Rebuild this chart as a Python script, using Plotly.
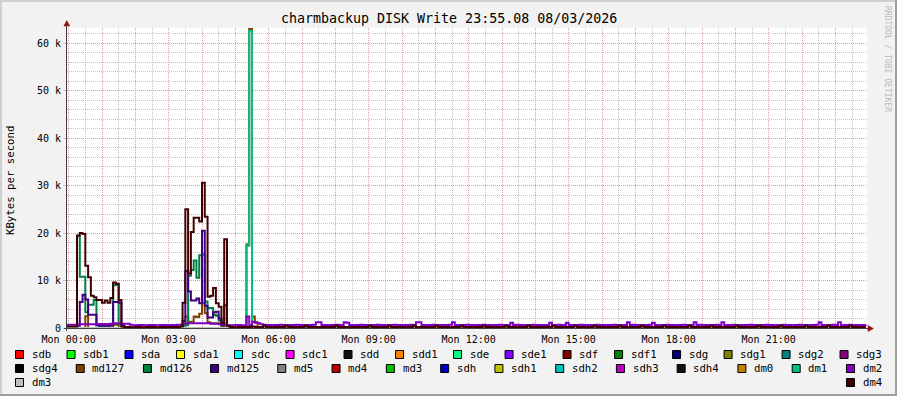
import plotly.graph_objects as go
from datetime import datetime, timedelta

# ---------------- data ----------------
START = datetime(2026, 8, 2, 23, 55)   # first 5-minute sample
STEP_MIN = 5
N_POINTS = 289

series_names = ["sdb", "sdb1", "sda", "sda1", "sdc", "sdc1", "sdd", "sdd1",
                "sde", "sde1", "sdf", "sdf1", "sdg", "sdg1", "sdg2", "sdg3",
                "sdg4", "md127", "md126", "md125", "md5", "md4", "md3", "sdh",
                "sdh1", "sdh2", "sdh3", "sdh4", "dm0", "dm1", "dm2", "dm3", "dm4"]
series_colors = ["#FF0000", "#00FF00", "#0000FF", "#FFFF00", "#00FFFF", "#FF00FF", "#111111", "#FF8000",
                 "#00FF80", "#8000FF", "#800000", "#008000", "#000080", "#808000", "#008080", "#800080",
                 "#000000", "#804000", "#008040", "#400080", "#808080", "#C00000", "#00C000", "#0000C0",
                 "#C0C000", "#00C0C0", "#C000C0", "#101010", "#C08000", "#00C080", "#8000C0", "#C0C0C0", "#400000"]
legend_row_sizes = [16, 15, 2]

# KBytes per second, one value per 5 minutes
dm4 = [300, 300, 300, 300,
       19500, 20000, 19800, 13100, 10700, 6800, 6500, 5900, 5900, 5300, 5800, 5300, 6300, 9600, 9300, 5900, 300,
       200, 200, 150, 150, 200, 200, 150, 150, 200, 200, 200, 150, 150, 200, 200, 150, 200, 200, 200, 200, 300,
       5300, 25000, 11500, 20200, 23200, 23200, 22400, 30600, 23400, 6600, 6800, 8400, 5200, 4500, 1000, 18700, 500,
       200, 150, 150, 200, 200, 200, 200, 200, 300, 200, 200, 200,
       500, 200, 200, 150, 200, 200, 200, 200, 500, 200,
       200, 150, 200, 200, 200, 500, 200, 200, 150, 200,
       200, 200, 200, 200, 200, 200, 500, 200, 200, 200,
       150, 200, 200, 200, 200, 200, 200, 200, 500, 200,
       200, 200, 150, 200, 200, 500, 200, 200, 200, 200,
       200, 150, 200, 200, 500, 200, 200, 200, 200, 150,
       200, 200, 500, 200, 200, 200, 200, 150, 200, 200,
       200, 500, 200, 200, 200, 150, 200, 200, 200, 500,
       200, 200, 200, 150, 200, 200, 200, 500, 200, 200,
       200, 150, 200, 200, 200, 500, 200, 200, 200, 200,
       150, 200, 200, 200, 500, 200, 200, 200, 150, 200,
       200, 200, 500, 200, 200, 200, 150, 200, 200, 500,
       200, 200, 200, 150, 200, 200, 200, 200, 500, 200,
       200, 150, 200, 200, 200, 200, 500, 200, 200, 200,
       150, 200, 200, 200, 500, 200, 200, 200, 200, 150,
       200, 200, 200, 500, 200, 200, 200, 150, 200, 200,
       200, 500, 200, 200, 200, 150, 200, 200, 200, 200,
       500, 200, 200, 200, 150, 200, 200, 200, 500, 200,
       200, 200, 150, 200, 200, 200, 500, 200, 200, 200,
       150, 200, 200, 200, 200, 500, 200, 200, 200, 150,
       200, 200, 200, 500, 200, 200, 200, 150, 200, 200,
       200, 500, 200, 200, 200, 150, 200, 200]

dm2 = [700, 700, 700, 700,
       800, 800, 800, 800, 800, 800, 800, 850, 850, 850, 850, 850, 900, 1000, 1000, 950, 900,
       900, 900, 700, 600, 600, 650, 650, 600, 600, 650, 650, 600, 600, 650, 650, 650, 600, 650, 650, 700, 700,
       900, 1000, 1000, 1000, 1000, 1000, 1000, 1000, 1000, 1000, 900, 900, 900, 900, 800, 700, 600,
       600, 600, 650, 650, 600, 600, 2400, 600, 1300, 1100, 1000, 800,
       700, 650, 650, 600, 650, 650, 700, 650, 650, 600,
       650, 650, 700, 650, 650, 600, 650, 650, 700, 1200,
       1200, 650, 650, 600, 650, 650, 700, 650, 650, 1200,
       1100, 650, 600, 650, 650, 700, 650, 650, 600, 650,
       650, 700, 650, 650, 600, 650, 650, 700, 650, 650,
       600, 650, 650, 700, 650, 1200, 1200, 650, 600, 650,
       650, 700, 650, 650, 600, 650, 650, 700, 1200, 650,
       600, 650, 650, 700, 650, 650, 600, 650, 650, 700,
       650, 650, 600, 650, 650, 700, 650, 650, 600, 1100,
       650, 700, 650, 650, 600, 650, 650, 700, 650, 650,
       600, 650, 650, 1100, 650, 650, 700, 650, 650, 1100,
       650, 600, 650, 650, 700, 650, 650, 600, 650, 650,
       700, 650, 650, 600, 650, 650, 700, 650, 650, 600,
       650, 1200, 650, 700, 650, 650, 600, 650, 650, 700,
       1100, 650, 600, 650, 650, 700, 650, 650, 600, 650,
       650, 700, 650, 650, 600, 1200, 650, 700, 650, 650,
       600, 650, 650, 700, 650, 1200, 600, 650, 650, 700,
       650, 650, 600, 650, 650, 700, 650, 650, 600, 650,
       650, 700, 650, 650, 600, 650, 650, 700, 650, 650,
       600, 650, 650, 700, 650, 650, 600, 650, 650, 700,
       1200, 650, 600, 650, 650, 700, 650, 1200, 600, 650,
       650, 700, 650, 650, 600, 650, 650, 700]

dm1 = [0] * 65 + [17300, 62500] + [0] * 222

md127 = ([0] * 7 + [2500] + [0] * 9 + [700, 700] + [0] * 23 +
         [800, 2400, 1300, 1300, 2400, 2300, 3000, 5300, 3100, 1200, 1000, 1000, 1000, 800, 500] +
         [0] * 8 + [17600, 63000, 2400, 1200] + [0] * 220)

md126 = ([0] * 4 +
         [19300, 10800, 10800, 3300, 4900, 4900, 5900, 600, 500, 500, 500, 500, 600, 9000, 9200, 800, 500] +
         [0] * 21 +
         [500, 600, 11000, 12200, 14200, 10600, 15300, 15500, 5600, 4200, 4200, 2800, 2600, 1600, 600, 600, 300] +
         [0] * 230)

md125 = ([0] * 4 +
         [500, 5500, 7000, 6000, 2800, 2800, 2800, 600, 500, 500, 500, 500, 600, 5500, 5500, 5300, 600] +
         [0] * 21 +
         [1500, 12000, 7700, 5800, 5800, 6200, 5200, 20500, 4700, 2200, 2200, 3300, 3400, 2000, 600, 4800, 500] +
         [0] * 230)

series_values = {"dm4": dm4, "dm2": dm2, "dm1": dm1, "md127": md127, "md126": md126, "md125": md125}
idle_value = 0.0

x_tick_labels = ["Mon 00:00", "Mon 03:00", "Mon 06:00", "Mon 09:00",
                 "Mon 12:00", "Mon 15:00", "Mon 18:00", "Mon 21:00"]
y_tick_values = [0, 10000, 20000, 30000, 40000, 50000, 60000]
y_tick_labels = ["0", "10 k", "20 k", "30 k", "40 k", "50 k", "60 k"]

title_text = "charmbackup DISK Write 23:55.08 08/03/2026"
y_title = "KBytes per second"
watermark = "RRDTOOL / TOBI OETIKER"

# ---------------- geometry helpers (pixels -> paper) ----------------
W, H = 897, 396
PL, PR, PT, PB = 67, 867, 28, 328


def px(x):
    return (x - PL) / (PR - PL)


def py(y):
    return (PB - y) / (PB - PT)


FONT = "DejaVu Sans Mono"
times = [START + timedelta(minutes=STEP_MIN * i) for i in range(N_POINTS)]
for k, v in series_values.items():
    assert len(v) == N_POINTS, (k, len(v))

fig = go.Figure()
for name, color in zip(series_names, series_colors):
    vals = series_values.get(name, [idle_value] * N_POINTS)
    fig.add_trace(go.Scatter(x=times, y=vals, mode="lines", name=name,
                             line=dict(color=color, width=2, shape="hv"),
                             showlegend=False, hoverinfo="skip"))

day0 = datetime(2026, 8, 3, 0, 0)
hour_ticks = [day0 + timedelta(hours=h) for h in range(24)]
hour_text = [x_tick_labels[h // 3] if h % 3 == 0 else "" for h in range(24)]

GRID_MAJOR = "rgba(245,120,120,0.55)"
GRID_MINOR = "rgba(175,175,175,0.75)"

fig.update_xaxes(type="date", range=[day0 - timedelta(minutes=3), day0 + timedelta(hours=24, minutes=-3)],
                 tickmode="array", tickvals=hour_ticks, ticktext=hour_text,
                 showgrid=True, gridcolor=GRID_MAJOR, griddash="1px,1px", gridwidth=1,
                 minor=dict(tick0=day0, dtick=1800000, showgrid=True, gridcolor=GRID_MINOR,
                            griddash="1px,1px", gridwidth=1),
                 ticks="", showline=False, zeroline=False, ticklabelstandoff=4,
                 tickfont=dict(family=FONT, size=10, color="#000"))
fig.update_yaxes(range=[0, (PB - PT) / 4.75 * 1000],
                 tickmode="array", tickvals=y_tick_values, ticktext=y_tick_labels,
                 showgrid=True, gridcolor=GRID_MAJOR, griddash="1px,1px", gridwidth=1,
                 minor=dict(dtick=2000, tick0=0, showgrid=True, gridcolor=GRID_MINOR,
                            griddash="1px,1px", gridwidth=1),
                 ticks="outside", ticklen=3, tickcolor=GRID_MAJOR,
                 showline=False, zeroline=False,
                 tickfont=dict(family=FONT, size=10, color="#000"))

shapes = []
annotations = []
# frame
shapes += [
    dict(type="rect", xref="paper", yref="paper", x0=px(0), x1=px(W), y0=py(0), y1=py(2),
         fillcolor="#CFCFCF", line_width=0, layer="below"),
    dict(type="rect", xref="paper", yref="paper", x0=px(0), x1=px(2), y0=py(0), y1=py(H),
         fillcolor="#CFCFCF", line_width=0, layer="below"),
    dict(type="rect", xref="paper", yref="paper", x0=px(0), x1=px(W), y0=py(H - 2), y1=py(H),
         fillcolor="#9E9E9E", line_width=0, layer="below"),
    dict(type="rect", xref="paper", yref="paper", x0=px(W - 2), x1=px(W), y0=py(0), y1=py(H),
         fillcolor="#9E9E9E", line_width=0, layer="below"),
]
# axes
AXIS = "#404040"
ARROW = "#8C1515"
shapes += [
    dict(type="line", xref="paper", yref="paper", x0=px(66.5), x1=px(66.5), y0=py(331), y1=py(25),
         line=dict(color=AXIS, width=1), layer="above"),
    dict(type="line", xref="paper", yref="paper", x0=px(64), x1=px(868), y0=py(328.5), y1=py(328.5),
         line=dict(color=AXIS, width=1), layer="above"),
    dict(type="path", xref="paper", yref="paper",
         path=f"M {px(63.8)} {py(26)} L {px(66.8)} {py(20.5)} L {px(69.8)} {py(26)} Z",
         fillcolor=ARROW, line=dict(color=ARROW, width=0.5), layer="above"),
    dict(type="path", xref="paper", yref="paper",
         path=f"M {px(868)} {py(325.5)} L {px(873.5)} {py(328.5)} L {px(868)} {py(331.5)} Z",
         fillcolor=ARROW, line=dict(color=ARROW, width=0.5), layer="above"),
]

# titles
annotations.append(dict(text=title_text, xref="paper", yref="paper", x=px(448.5), y=py(19),
                        xanchor="center", yanchor="middle", showarrow=False,
                        font=dict(family=FONT, size=13.3, color="#000")))
annotations.append(dict(text=y_title, xref="paper", yref="paper", x=px(11), y=py(180),
                        xanchor="center", yanchor="middle", textangle=-90, showarrow=False,
                        font=dict(family=FONT, size=10.7, color="#000")))
annotations.append(dict(text=watermark, xref="paper", yref="paper", x=px(888), y=py(59),
                        xanchor="center", yanchor="middle", textangle=90, showarrow=False,
                        font=dict(family=FONT, size=8, color="#BBBBBB")))

# legend (justified rows like rrdtool)
CHAR_W = 6.44
TEXT_OFF = 15.7
LEG_LEFT, LEG_RIGHT = 15, 881
row_tops = [350, 364, 378]
BOX = 9
idx = 0
for r, count in enumerate(legend_row_sizes):
    names = series_names[idx:idx + count]
    cols = series_colors[idx:idx + count]
    idx += count
    widths = [TEXT_OFF + len(n) * CHAR_W for n in names]
    gap = (LEG_RIGHT - LEG_LEFT - sum(widths)) / max(1, count - 1)
    x = LEG_LEFT
    top = row_tops[r]
    for n, c, w in zip(names, cols, widths):
        shapes.append(dict(type="rect", xref="paper", yref="paper",
                           x0=px(x + 0.5), x1=px(x + BOX - 0.5), y0=py(top + 0.5), y1=py(top + BOX - 0.5),
                           fillcolor=c, line=dict(color="#000", width=1), layer="above"))
        annotations.append(dict(text=n, xref="paper", yref="paper", x=px(x + TEXT_OFF - 1),
                                y=py(top + BOX / 2), xanchor="left", yanchor="middle", showarrow=False,
                                font=dict(family=FONT, size=10.7, color="#000")))
        x += w + gap

fig.update_layout(width=W, height=H, margin=dict(l=PL, r=W - PR, t=PT, b=H - PB, pad=0),
                  paper_bgcolor="#F2F2F2", plot_bgcolor="#FFFFFF",
                  shapes=shapes, annotations=annotations, showlegend=False)

fig.write_html("out.html", config={"displayModeBar": False})
